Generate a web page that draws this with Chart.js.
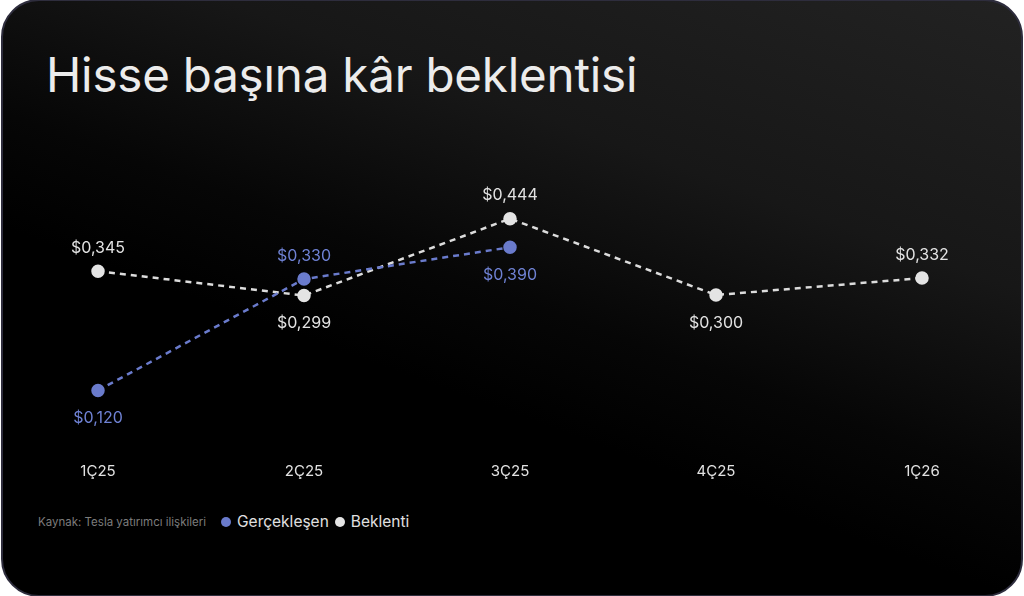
<!DOCTYPE html>
<html>
<head>
<meta charset="utf-8">
<script src="https://cdn.jsdelivr.net/npm/chart.js@4"></script>
<style>
  body { margin: 0; background: #ffffff; width: 1024px; height: 596px; overflow: hidden; font-family: Inter, "Noto Sans", sans-serif; }
  .card {
    position: absolute; left: 1px; top: -1px; width: 1018px; height: 594px;
    border: 2px solid #2e2d3d; border-radius: 38px;
    background: linear-gradient(200deg, #222222 0%, #171717 30%, #060606 50%, #000000 62%);
  }
  h1 {
    position: absolute; left: 46px; top: 46px; margin: 0;
    font-weight: 400; font-size: 47.5px; color: #ececec; letter-spacing: -0.2px;
  }
  #chartBox { position: absolute; left: 0; top: 160px; width: 1024px; height: 328px; }
  .foot { position: absolute; left: 38px; top: 512px; display: flex; align-items: center; }
  .src { font-size: 11.5px; color: #7c7c7c; margin-right: 15px; }
  .item { display: flex; align-items: center; font-size: 15.5px; color: #e0e0e0; margin-right: 6px; }
  .dot { width: 10px; height: 10px; border-radius: 50%; margin-right: 6px; }
</style>
</head>
<body>
<div class="card"></div>
<h1>Hisse başına kâr beklentisi</h1>
<div id="chartBox"><canvas id="myChart"></canvas></div>
<div class="foot">
  <span class="src">Kaynak: Tesla yatırımcı ilişkileri</span>
  <span id="legend" style="display:flex"></span>
</div>
<script>
const quarters = ["1Ç25", "2Ç25", "3Ç25", "4Ç25", "1Ç26"];
const actualEps = [0.120, 0.330, 0.390, null, null];
const expectedEps = [0.345, 0.299, 0.444, 0.300, 0.332];

const blue = "#6a7bcc";
const light = "#dcdcdc";

function money(v) {
  return "$" + v.toFixed(3).replace(".", ",");
}

// labels go away from the other series, or below a local dip
const valueLabels = {
  id: "valueLabels",
  afterDatasetsDraw(chart) {
    const ctx = chart.ctx;
    const sets = chart.data.datasets;
    ctx.save();
    ctx.font = "16px Inter, 'Noto Sans', sans-serif";
    ctx.textAlign = "center";
    ctx.textBaseline = "middle";
    sets.forEach((ds, d) => {
      const other = sets[1 - d].data;
      const meta = chart.getDatasetMeta(d);
      meta.data.forEach((pt, i) => {
        const v = ds.data[i];
        if (v == null) return;
        let below;
        if (other[i] != null) {
          below = v < other[i];
        } else {
          const prev = ds.data[i - 1], next = ds.data[i + 1];
          below = prev != null && next != null && v < prev && v < next;
        }
        ctx.fillStyle = ds.labelColor;
        ctx.fillText(money(v), pt.x, pt.y + (below ? 28 : -23));
      });
    });
    ctx.restore();
  }
};

const ctx = document.getElementById("myChart");

const chart = new Chart(ctx, {
  type: "line",
  data: {
    labels: quarters,
    datasets: [{
      label: "Gerçekleşen",
      data: actualEps,
      borderColor: blue,
      backgroundColor: blue,
      pointBackgroundColor: blue,
      pointBorderColor: blue,
      labelColor: "#6f82d4",
      borderWidth: 2.5,
      borderDash: [6, 5],
      pointRadius: 5.5,
      spanGaps: false
    }, {
      label: "Beklenti",
      data: expectedEps,
      borderColor: light,
      backgroundColor: light,
      pointBackgroundColor: "#e4e4e4",
      pointBorderColor: "#e4e4e4",
      labelColor: "#e2e2e2",
      borderWidth: 2.5,
      borderDash: [6, 5],
      pointRadius: 5.5
    }]
  },
  options: {
    responsive: true,
    maintainAspectRatio: false,
    animation: false,
    clip: false,
    layout: { padding: { left: 98, right: 102, top: 29, bottom: 8 } },
    plugins: {
      legend: { display: false },
      tooltip: { enabled: false }
    },
    scales: {
      x: {
        offset: false,
        grid: { display: false },
        border: { display: false },
        ticks: { color: "#e2e2e2", padding: 0, font: { size: 15, family: "Inter" } }
      },
      y: {
        display: false,
        min: 0,
        max: 0.5
      }
    }
  },
  plugins: [valueLabels]
});

let legendBox = document.getElementById("legend");
chart.data.datasets.forEach(ds => {
  legendBox.innerHTML += `
    <span class="item"><span class="dot" style="background:${ds.pointBackgroundColor}"></span>${ds.label}</span>
  `;
});
</script>
</body>
</html>
